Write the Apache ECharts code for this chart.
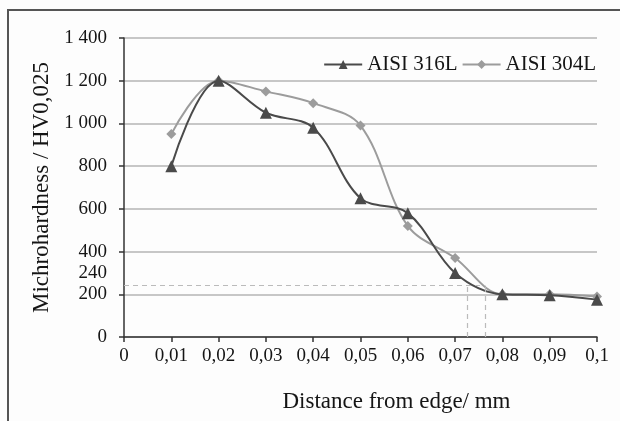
<!DOCTYPE html>
<html>
<head>
<meta charset="utf-8">
<script src="https://cdn.jsdelivr.net/npm/echarts@6/dist/echarts.min.js"></script>
<style>
  html, body { margin: 0; padding: 0; background: #fdfdfd; }
  #chart { width: 620px; height: 421px; }
</style>
</head>
<body>
<div id="chart"></div>
<script>
// 数据
let distances = [0.01, 0.02, 0.03, 0.04, 0.05, 0.06, 0.07, 0.08, 0.09, 0.1]
let aisi316L = [800, 1200, 1050, 980, 650, 580, 300, 200, 195, 175]
let aisi304L = [950, 1200, 1150, 1095, 990, 520, 370, 200, 200, 190]
let xTickLabels = ['0', '0,01', '0,02', '0,03', '0,04', '0,05', '0,06', '0,07', '0,08', '0,09', '0,1']
let yTickLabels = ['0', '200', '400', '600', '800', '1 000', '1 200', '1 400']
let limitValue = 240
let limitX = [0.0726, 0.0764]

let myChart = echarts.init(document.getElementById('chart'))
let font = '"Liberation Serif", "DejaVu Serif", serif'

let option = {
    backgroundColor: '#fdfdfd',
    animation: false,
    textStyle: { fontFamily: font },
    legend: {
        right: 19,
        top: 49,
        itemWidth: 38,
        itemHeight: 11,
        itemGap: 4,
        textStyle: { fontFamily: font, fontSize: 21, color: '#151515' },
        data: ['AISI 316L', 'AISI 304L']
    },
    grid: {
        left: 124,
        right: 23,
        top: 38,
        bottom: 84
    },
    xAxis: {
        type: 'value',
        min: 0,
        max: 0.1,
        interval: 0.01,
        name: 'Distance from edge/ mm',
        nameLocation: 'middle',
        nameGap: 53,
        nameTextStyle: { fontFamily: font, fontSize: 23, color: '#151515', padding: [0, 0, 0, 72] },
        axisLine: { lineStyle: { color: '#333', width: 1.5 } },
        axisTick: { show: true, length: 5, lineStyle: { color: '#333', width: 1.5 } },
        axisLabel: {
            margin: 10,
            fontFamily: font,
            fontSize: 19,
            color: '#151515',
            showMaxLabel: true,
            formatter: function (v) {
                return xTickLabels[Math.round(v / 0.01)]
            }
        },
        splitLine: { show: false }
    },
    yAxis: {
        type: 'value',
        min: 0,
        max: 1400,
        interval: 200,
        name: 'Michrohardness / HV0,025',
        nameLocation: 'middle',
        nameGap: 70,
        nameTextStyle: { fontFamily: font, fontSize: 23, color: '#151515' },
        axisLine: { show: true, lineStyle: { color: '#333', width: 1.5 } },
        axisTick: { show: true, length: 5, lineStyle: { color: '#333', width: 1.5 } },
        axisLabel: {
            margin: 17,
            fontFamily: font,
            fontSize: 19,
            color: '#151515',
            formatter: function (v) {
                return yTickLabels[Math.round(v / 200)]
            }
        },
        splitLine: { show: true, lineStyle: { color: '#b4b4b4', width: 1.5 } }
    },
    series: [
        {
            name: 'AISI 316L',
            type: 'line',
            smooth: 0.35,
            symbol: 'triangle',
            symbolSize: 12,
            z: 3,
            itemStyle: { color: '#4a4a4a' },
            lineStyle: { color: '#4a4a4a', width: 2 },
            data: distances.map((d, i) => [d, aisi316L[i]]),
            markLine: {
                silent: true,
                symbol: 'none',
                label: { show: false },
                lineStyle: { color: '#bbb', type: [5, 4], width: 1.2 },
                data: [
                    [{ coord: [0, limitValue] }, { coord: [limitX[1], limitValue] }],
                    [{ coord: [limitX[0], 0] }, { coord: [limitX[0], limitValue] }],
                    [{ coord: [limitX[1], 0] }, { coord: [limitX[1], limitValue] }]
                ]
            }
        },
        {
            name: 'AISI 304L',
            type: 'line',
            smooth: 0.35,
            symbol: 'diamond',
            symbolSize: 10,
            z: 2,
            itemStyle: { color: '#9c9c9c' },
            lineStyle: { color: '#9c9c9c', width: 2 },
            data: distances.map((d, i) => [d, aisi304L[i]])
        }
    ]
}

myChart.setOption(option)

// 240 标注和外框
let p = myChart.convertToPixel({ gridIndex: 0 }, [0, limitValue])
myChart.setOption({
    graphic: [
        {
            type: 'text',
            x: p[0] - 17,
            y: p[1] - 13,
            style: {
                text: String(limitValue),
                fontFamily: font,
                fontSize: 19,
                fill: '#151515',
                align: 'right',
                verticalAlign: 'middle'
            }
        },
        {
            type: 'polyline',
            shape: { points: [[8, 421], [8, 10], [620, 10]] },
            style: { stroke: '#555', lineWidth: 2, fill: null }
        }
    ]
})
</script>
</body>
</html>
